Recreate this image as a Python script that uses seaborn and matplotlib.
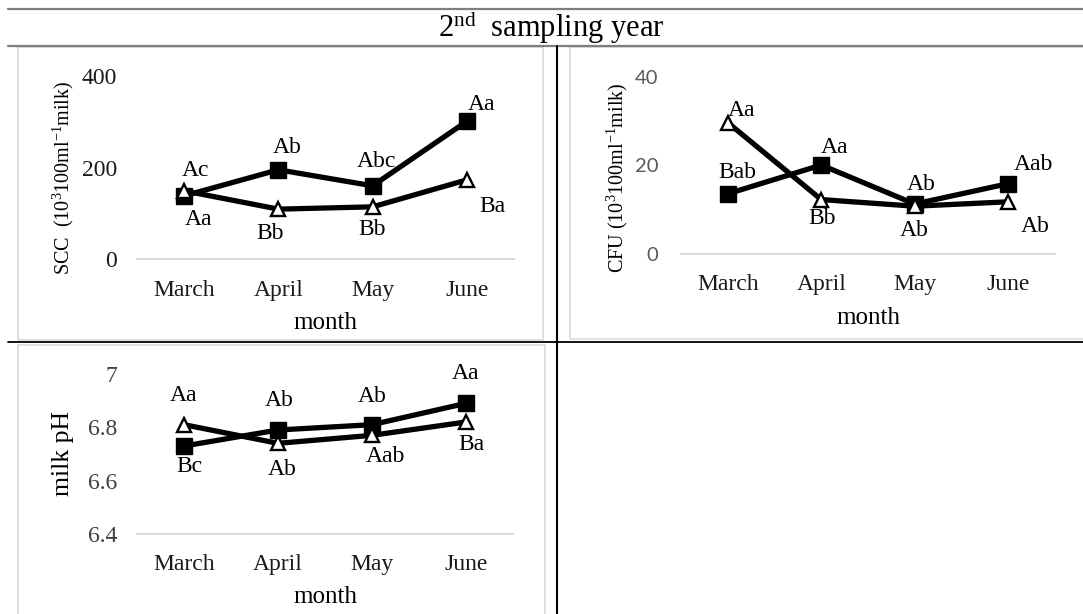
import matplotlib
matplotlib.use("Agg")
import matplotlib.pyplot as plt
from matplotlib.lines import Line2D
from matplotlib.patches import Rectangle
import seaborn as sns

# ---- data -------------------------------------------------------------
months = ["March", "April", "May", "June"]

scc_square = [138, 195, 160, 301]
scc_triangle = [149, 109, 114, 173]
scc_square_labels = ["Ac", "Ab", "Abc", "Aa"]
scc_triangle_labels = ["Aa", "Bb", "Bb", "Ba"]

cfu_square = [13.6, 20.1, 11.3, 15.9]
cfu_triangle = [29.7, 12.3, 10.8, 11.8]
cfu_square_labels = ["Bab", "Aa", "Ab", "Aab"]
cfu_triangle_labels = ["Aa", "Bb", "Ab", "Ab"]

ph_square = [6.73, 6.79, 6.81, 6.89]
ph_triangle = [6.81, 6.74, 6.77, 6.82]
ph_square_labels = ["Bc", "Ab", "Ab", "Aa"]
ph_triangle_labels = ["Aa", "Ab", "Aab", "Ba"]

scc_ticks = [0, 200, 400]
cfu_ticks = [0, 20, 40]
ph_ticks = [6.4, 6.6, 6.8, 7.0]
ph_tick_labels = ["6.4", "6.6", "6.8", "7"]

# letter-label offsets (pixels: right, up) for each point
scc_square_off = [(11, 25), (9, 22), (4, 24), (15, 17)]
scc_triangle_off = [(14, -29), (-8, -24), (-1, -23), (26, -27)]
cfu_square_off = [(10, 21), (13, 18), (6, 19), (25, 19)]
cfu_triangle_off = [(14, 12), (1, -19), (-1, -24), (27, -25)]
ph_square_off = [(5, -21), (1, 29), (0, 28), (0, 30)]
ph_triangle_off = [(0, 29), (4, -26), (13, -21), (5, -22)]

# ---- style ------------------------------------------------------------
sns.set_theme(style="white")
plt.rcParams["font.family"] = ["Liberation Serif", "DejaVu Serif"]
plt.rcParams["mathtext.fontset"] = "custom"
plt.rcParams["mathtext.rm"] = "Liberation Serif"
plt.rcParams["mathtext.it"] = "Liberation Serif:italic"
plt.rcParams["mathtext.bf"] = "Liberation Serif:bold"

W, H = 1083, 614
PX = 72 / 100  # points per pixel
fig = plt.figure(figsize=(W / 100, H / 100), dpi=100)


def box(x0, y0, x1, y1):
    return [x0 / W, 1 - y1 / H, (x1 - x0) / W, (y1 - y0) / H]


def hline(y, x0, x1, color, lw):
    fig.add_artist(Line2D([x0 / W, x1 / W], [1 - y / H, 1 - y / H],
                          transform=fig.transFigure, color=color, lw=lw))


def vline(x, y0, y1, color, lw):
    fig.add_artist(Line2D([x / W, x / W], [1 - y0 / H, 1 - y1 / H],
                          transform=fig.transFigure, color=color, lw=lw))


def frame(x0, y0, x1, y1):
    fig.add_artist(Rectangle((x0 / W, 1 - y1 / H), (x1 - x0) / W, (y1 - y0) / H,
                             transform=fig.transFigure, fill=False,
                             edgecolor="#d9d9d9", lw=1.2))


# chart frames inside the table cells
frame(18, 47, 543, 340)
frame(570, 47, 1100, 339)
frame(18, 345, 545, 640)

# table rules
hline(9, 8, W, "#7f7f7f", 1.6)
hline(46, 8, W, "#7f7f7f", 1.6)
hline(342, 8, W, "black", 1.3)
vline(557, 46, H, "black", 1.5)

fig.text(551 / W, 1 - 27 / H, r"2$^{\mathrm{nd}}$  sampling year",
         ha="center", va="center", fontsize=22, color="black")


def panel(rect, sq, tri, sq_lab, tri_lab, sq_off, tri_off, ylim, ticks,
          ticklabels, ylabel, ylabel_size, ylabel_xy, xlabel_y,
          tick_color, tick_family, tick_size, ytick_pad, xtick_pad):
    ax = fig.add_axes(box(*rect))
    ax.set_facecolor("none")
    sns.lineplot(x=months, y=sq, ax=ax, color="black", linewidth=3.8,
                 marker="s", markersize=11.5, markerfacecolor="black",
                 markeredgecolor="black", markeredgewidth=1, zorder=3,
                 clip_on=False)
    sns.lineplot(x=months, y=tri, ax=ax, color="black", linewidth=3.8,
                 marker="^", markersize=10.5, markerfacecolor="white",
                 markeredgecolor="black", markeredgewidth=1.7, zorder=4,
                 clip_on=False)
    for m, v, lab, (dx, dy) in zip(months, sq, sq_lab, sq_off):
        ax.annotate(lab, xy=(m, v), xytext=(dx * PX, dy * PX),
                    textcoords="offset points", ha="center", va="center",
                    fontsize=17, color="black", zorder=5)
    for m, v, lab, (dx, dy) in zip(months, tri, tri_lab, tri_off):
        ax.annotate(lab, xy=(m, v), xytext=(dx * PX, dy * PX),
                    textcoords="offset points", ha="center", va="center",
                    fontsize=17, color="black", zorder=5)

    ax.set_xlim(-0.5, 3.5)
    ax.set_ylim(*ylim)
    ax.set_yticks(ticks)
    ax.set_yticklabels(ticklabels, fontsize=tick_size, color=tick_color,
                       family=tick_family)
    ax.tick_params(axis="y", length=0, pad=ytick_pad)
    ax.tick_params(axis="x", length=0, pad=xtick_pad, labelsize=17,
                   labelcolor="#1a1a1a")
    for s in ("top", "right", "left"):
        ax.spines[s].set_visible(False)
    ax.spines["bottom"].set_color("#d9d9d9")
    ax.spines["bottom"].set_linewidth(1.4)
    ax.grid(False)

    ax.set_xlabel("month", fontsize=18, color="black", va="center")
    ax.xaxis.set_label_coords(0.5, xlabel_y)
    ax.set_ylabel(ylabel, fontsize=ylabel_size, color="black", va="center")
    ax.yaxis.set_label_coords(*ylabel_xy)
    return ax


panel((137, 76, 514, 259), scc_square, scc_triangle, scc_square_labels,
      scc_triangle_labels, scc_square_off, scc_triangle_off, (0, 400),
      scc_ticks, [str(t) for t in scc_ticks],
      r"SCC  (10$^{3}$100ml$^{-1}$milk)", 14.5, (-0.196, 0.443), -0.35,
      "#1a1a1a", ["Liberation Serif"], 17, 14.4, 15)

panel((681, 77, 1055, 254), cfu_square, cfu_triangle, cfu_square_labels,
      cfu_triangle_labels, cfu_square_off, cfu_triangle_off, (0, 40),
      cfu_ticks, [str(t) for t in cfu_ticks],
      r"CFU (10$^{3}$100ml$^{-1}$milk)", 14.5, (-0.171, 0.43), -0.362,
      "#595959", ["Lato", "DejaVu Sans"], 14.5, 16.5, 14.5)

panel((137, 374, 513, 534), ph_square, ph_triangle, ph_square_labels,
      ph_triangle_labels, ph_square_off, ph_triangle_off, (6.4, 7.0),
      ph_ticks, ph_tick_labels, "milk pH", 18.5, (-0.197, 0.506), -0.394,
      "#404040", ["Liberation Serif"], 17, 14.4, 14.5)

fig.savefig("out.png", dpi=100)
